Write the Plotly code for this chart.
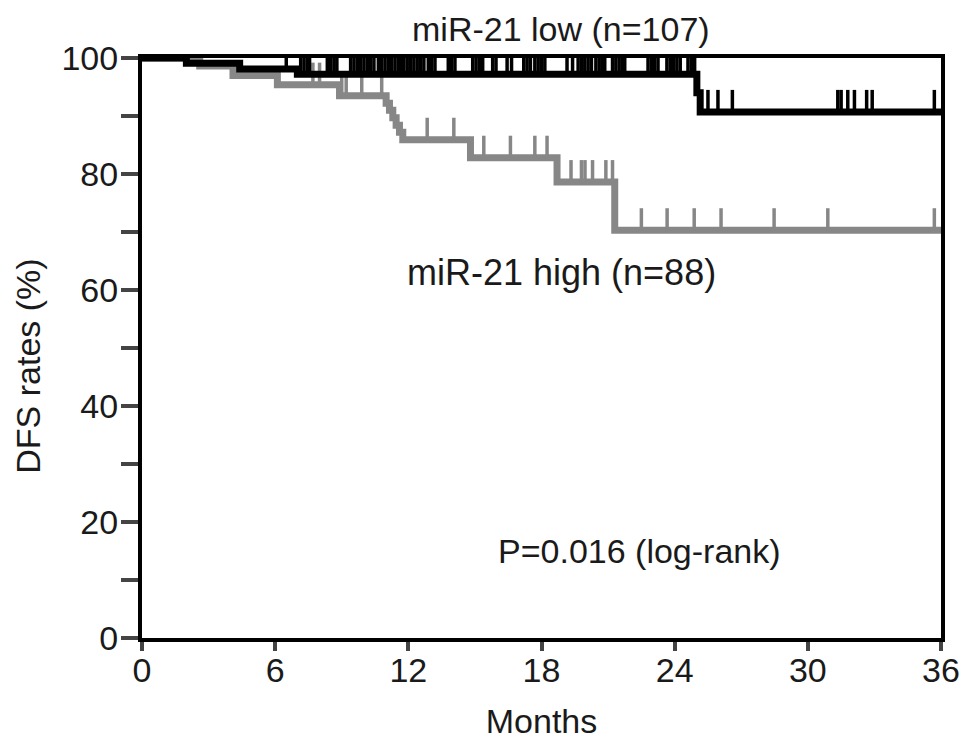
import plotly.graph_objects as go

# Kaplan-Meier steps (months, DFS %)
low_months = [0, 2.0, 4.4, 7.0, 25.0, 25.15, 36]
low_dfs = [100, 99.1, 98.1, 97.2, 94.0, 90.7, 90.7]
low_censored = [6.5, 7.15, 7.3, 7.45, 7.55, 8.35, 8.5, 8.65, 8.78,
                9.4, 9.55, 9.7, 9.85, 10.0, 10.15, 10.3, 10.45,
                10.65, 10.8, 10.95, 11.1, 11.25, 11.4, 11.55, 11.7,
                11.8, 11.95, 12.1, 12.25, 12.4, 12.55, 12.7,
                12.9, 13.05, 13.2, 13.8, 13.95, 14.1, 14.9, 15.05, 15.2, 15.35,
                15.8, 15.95, 16.45, 16.65, 17.2, 17.35, 17.5, 17.7, 17.85, 18.0, 18.15,
                19.15, 19.4, 19.65, 19.8, 19.95, 20.1, 20.25, 20.45, 20.6, 20.75, 20.85,
                21.2, 21.35, 21.5, 21.65, 21.75, 22.8, 22.95, 23.1, 23.25,
                23.65, 23.8, 23.95, 24.1, 24.25, 24.6, 24.75, 24.9,
                25.5, 25.95, 26.6, 31.35, 31.5, 31.8, 32.1, 32.65, 32.9, 35.7]

high_months = [0, 2.6, 4.1, 6.1, 8.9, 11.0, 11.15, 11.3, 11.45, 11.6, 11.75, 14.8, 18.7, 21.3, 36]
high_dfs = [100, 98.6, 97.0, 95.4, 93.5, 92.2, 91.0, 89.7, 88.4, 87.2, 85.9, 82.8, 78.6, 70.3, 70.3]
high_censored = [7.7, 8.0, 9.0, 9.2, 9.9, 10.8, 12.85, 14.05, 15.4, 16.6, 17.7, 18.25, 19.33,
                 19.8, 19.96, 20.3, 20.9, 21.2, 22.5, 23.66, 24.88, 26.09, 28.48, 30.9, 35.7]

x_ticks = [0, 6, 12, 18, 24, 30, 36]
y_ticks = [0, 10, 20, 30, 40, 50, 60, 70, 80, 90, 100]
y_tick_labels = ["0", "", "20", "", "40", "", "60", "", "80", "", "100"]


def dfs_at(months, dfs, t):
    # value of the step curve at time t
    val = dfs[0]
    for m, d in zip(months, dfs):
        if m <= t:
            val = d
    return val


def censor_marks(months, dfs, censored, height=3.8):
    # small vertical ticks standing on the curve
    xs, ys = [], []
    for t in censored:
        v = dfs_at(months, dfs, t)
        xs += [t, t, None]
        ys += [v, v + height, None]
    return xs, ys


fig = go.Figure()

# miR-21 high (grey) first so black sits on top
hx, hy = censor_marks(high_months, high_dfs, high_censored)
fig.add_trace(go.Scatter(x=high_months, y=high_dfs, mode="lines", line_shape="hv",
                         line=dict(color="#878787", width=7), showlegend=False))
fig.add_trace(go.Scatter(x=hx, y=hy, mode="lines",
                         line=dict(color="#878787", width=3.5), showlegend=False))

lx, ly = censor_marks(low_months, low_dfs, low_censored)
fig.add_trace(go.Scatter(x=low_months, y=low_dfs, mode="lines", line_shape="hv",
                         line=dict(color="black", width=7), showlegend=False))
fig.add_trace(go.Scatter(x=lx, y=ly, mode="lines",
                         line=dict(color="black", width=3.5), showlegend=False))

txt_font = dict(family="Arial, Liberation Sans, sans-serif", size=34, color="#1a1a1a")
big_font = dict(family="Arial, Liberation Sans, sans-serif", size=36, color="#1a1a1a")

fig.add_annotation(x=18.9, y=1.05, xref="x", yref="paper", yanchor="middle",
                   text="miR-21 low (n=107)", showarrow=False, font=txt_font)
fig.add_annotation(x=18.9, y=63.1, text="miR-21 high (n=88)", showarrow=False, font=big_font)
fig.add_annotation(x=22.4, y=15.0, text="P=0.016 (log-rank)", showarrow=False, font=txt_font)
# y title placed by hand, it sits a little below the axis middle
fig.add_annotation(x=-0.143, y=0.469, xref="paper", yref="paper", textangle=-90,
                   xanchor="center", yanchor="middle",
                   text="DFS rates (%)", showarrow=False, font=txt_font)

fig.update_xaxes(range=[0, 36], tickvals=x_ticks, ticks="outside", ticklen=9, tickwidth=4,
                 showline=True, linewidth=4, linecolor="black", mirror=True,
                 showgrid=False, zeroline=False, ticklabelstandoff=-10,
                 tickfont=txt_font, title=dict(text="Months", font=txt_font, standoff=22))
fig.update_yaxes(range=[0, 100], tickvals=y_ticks, ticktext=y_tick_labels,
                 ticks="outside", ticklen=17, tickwidth=4,
                 showline=True, linewidth=4, linecolor="black", mirror=True,
                 showgrid=False, zeroline=False, ticklabelstandoff=-4,
                 tickfont=txt_font)

# page body adds an 8px offset, margins compensate for it
fig.update_layout(width=971, height=752, margin=dict(l=134, r=38, t=50, b=122),
                  plot_bgcolor="white", paper_bgcolor="white",
                  font=txt_font)

fig.write_html("out.html")
